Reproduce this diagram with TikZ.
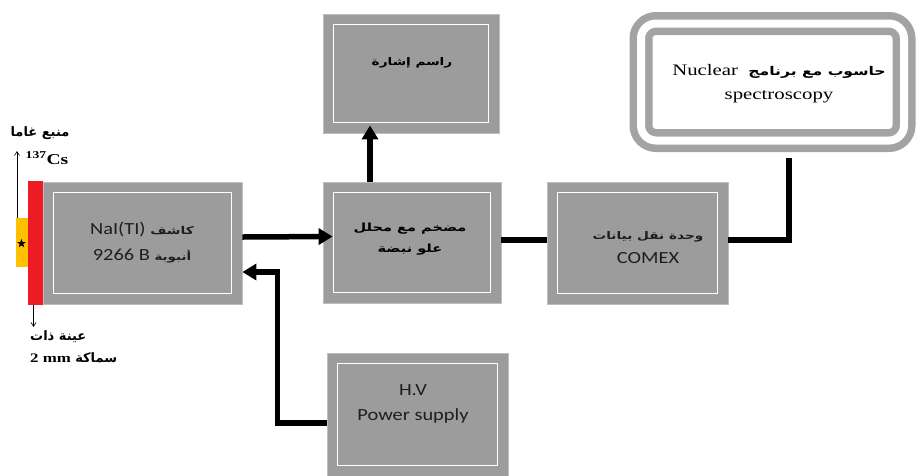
\documentclass[tikz,border=0pt]{standalone}
\usepackage{fontspec}
\setmainfont{Liberation Serif}[FakeStretch=1.3]
\newfontfamily\calfont{Carlito}[FakeStretch=1.2]
\newfontfamily\arabfont[Script=Arabic,FakeStretch=1.3]{DejaVu Sans}
\newfontfamily\arabplain[Script=Arabic]{DejaVu Sans}
\TeXXeTstate=1
\usetikzlibrary{arrows.meta,shapes.geometric}
\definecolor{boxgray}{RGB}{156,156,156}
\definecolor{edgegray}{RGB}{190,190,190}
\definecolor{ringgray}{RGB}{163,163,163}
\definecolor{srcyellow}{RGB}{255,192,0}
\definecolor{samplered}{RGB}{237,28,36}
\definecolor{txtdark}{RGB}{30,30,30}
\begin{document}
\begin{tikzpicture}[x=1pt,y=-1pt,
  blk/.style={fill=boxgray, draw=edgegray, line width=0.8pt, inner sep=0pt,
    path picture={\draw[white,line width=1.8pt]
      ([xshift=10.5pt,yshift=-10.5pt]path picture bounding box.north west) rectangle
      ([xshift=-10.5pt,yshift=10.5pt]path picture bounding box.south east);}},
  conn/.style={line width=5.5pt},
  arr/.style={line width=5.5pt, -{Triangle[length=14pt,width=16pt]}},
  thinarr/.style={line width=0.6pt, -{Straight Barb[length=4pt,width=5pt]}},
  lat/.style={font=\calfont\fontsize{17}{20}\selectfont, text=txtdark, align=center, inner sep=0pt},
  arb/.style={align=center, inner sep=0pt},
  lbl/.style={inner sep=0pt}
]
\useasboundingbox (0,0) rectangle (918,475);
% boxes
\node[blk, minimum width=199pt, minimum height=122pt] (det) at (142.5,243) {};
\node[blk, minimum width=178pt, minimum height=121pt] (amp) at (412,242.5) {};
\node[blk, minimum width=176pt, minimum height=119pt] (sig) at (411,73.5) {};
\node[blk, minimum width=181pt, minimum height=122pt] (comex) at (637.5,243) {};
\node[blk, minimum width=181pt, minimum height=123pt] (hv) at (417.5,414.5) {};
\node[draw=ringgray, line width=7.5pt, double=white, double distance=8pt,
      rounded corners=15pt, fill=white, minimum width=263pt, minimum height=117pt] (comp) at (772.5,82) {};
% sample and source
\node[fill=samplered, minimum width=15pt, minimum height=124pt, inner sep=0pt] (sample) at (35.5,243) {};
\node[fill=srcyellow, minimum width=12pt, minimum height=49pt, inner sep=0pt] (src) at (22,242.5) {};
\node[star, star points=5, star point ratio=2.4, fill=black, minimum size=9pt, inner sep=0pt] (star) at (21.5,243.5) {};
% box texts
\node[lat] (dett) at (142,243) {NaI(TI) {\arabfont\bfseries\fontsize{10.7}{13}\selectfont\beginR كاشف\endR}\\[6pt]
  9266 B {\arabfont\bfseries\fontsize{10.3}{13}\selectfont\beginR أنبوبة\endR}};
\node[arb, font=\arabfont\bfseries\fontsize{11.2}{21}\selectfont] (ampt) at (410,239.5) {\beginR مضخم مع محلل\endR\\\beginR علو نبضة\endR};
\node[arb, font=\arabfont\bfseries\fontsize{10.5}{13}\selectfont] (sigt) at (412,63) {\beginR راسم إشارة\endR};
\node[lat] (comext) at (648,247.5) {{\arabfont\bfseries\fontsize{10.5}{13}\selectfont\beginR وحدة نقل بيانات\endR}\\[4pt] COMEX};
\node[lat] (hvt) at (413,404) {H.V\\[5pt] Power supply};
\node[align=center, inner sep=0pt, font=\fontsize{16}{19}\selectfont] (compt) at (779,83.5)
  {Nuclear\ \ {\arabfont\bfseries\fontsize{12}{13}\selectfont\beginR حاسوب مع برنامج\endR}\\[5pt] spectroscopy};
% outer labels
\node[lbl] (gamma) at (40,133) {\arabplain\bfseries\fontsize{13}{15}\selectfont\beginR منبع غاما\endR};
\node[lbl] (cs) at (47,158) {\bfseries\fontsize{15}{17}\selectfont\textsuperscript{137}Cs};
\node[lbl, anchor=west] (thick1) at (30,337) {\arabplain\bfseries\fontsize{13}{15}\selectfont\beginR عينة ذات\endR};
\node[lbl, anchor=west] (thick2) at (30,358) {\bfseries\fontsize{13}{15}\selectfont 2 mm {\arabplain\beginR سماكة\endR}};
% connectors
\coordinate (gtip) at (17,151);
\coordinate (stip) at (33.5,327);
\draw[thinarr] ([xshift=-5pt]src.north) -- (gtip);
\draw[thinarr] ([xshift=-2pt]sample.south) -- (stip);
\draw[arr] ([yshift=6pt]det.east) -- ([xshift=10pt,yshift=6pt]amp.west);
\draw[arr] ([xshift=-42pt]amp.north) -- ([xshift=-41pt,yshift=8pt]sig.south);
\draw[conn] ([yshift=2.5pt]amp.east) -- ([yshift=3pt]comex.west);
\draw[conn] ([xshift=16.5pt,yshift=-14pt]comp.south) |- ([yshift=3pt]comex.east);
\draw[arr] ([yshift=-8.5pt]hv.west) -| ([xshift=35pt,yshift=-29pt]det.east) -- ([yshift=-29pt]det.east);
\end{tikzpicture}
\end{document}
